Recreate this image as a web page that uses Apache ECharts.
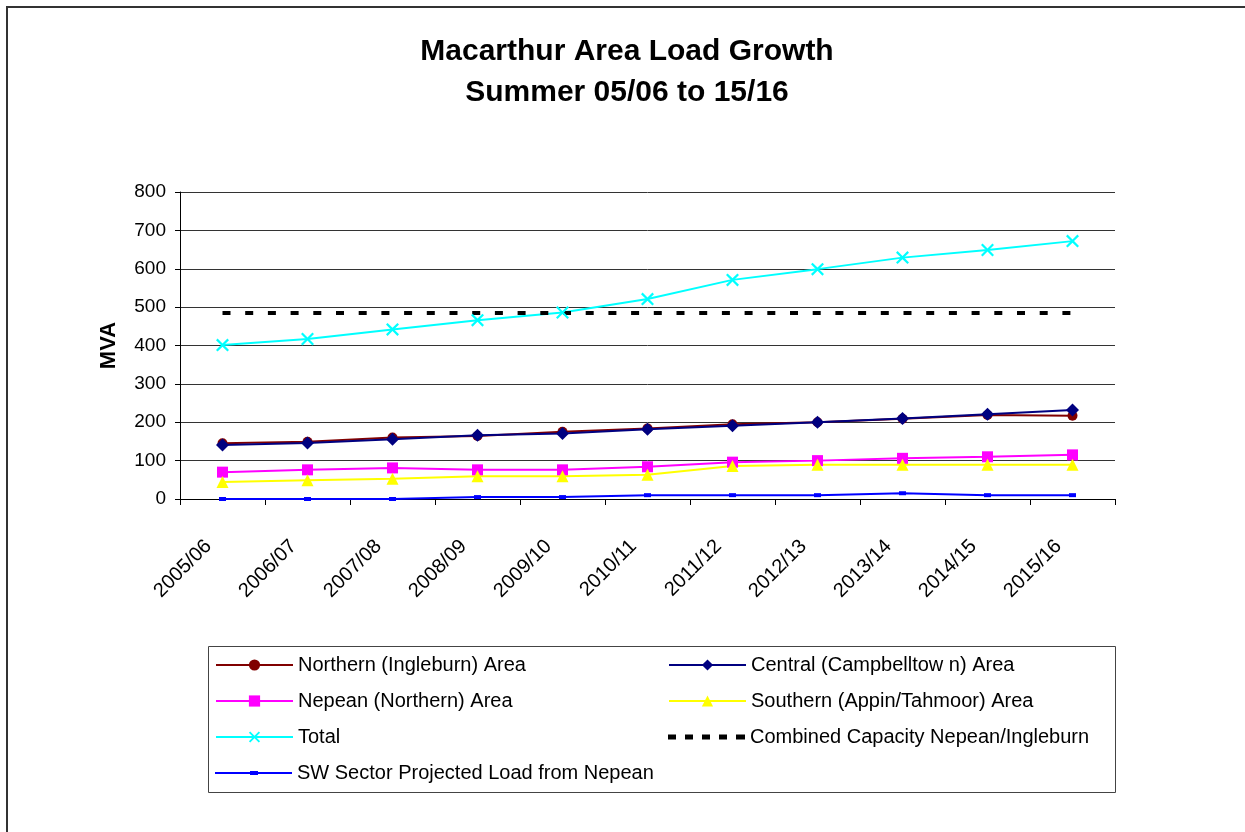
<!DOCTYPE html>
<html>
<head>
<meta charset="utf-8">
<script src="https://cdn.jsdelivr.net/npm/echarts@6/dist/echarts.min.js"></script>
<style>
html,body{margin:0;padding:0;background:#fff;}
#chart{width:1245px;height:832px;}
</style>
</head>
<body>
<div id="chart"></div>
<script>
// ---- data ----
var categories = ['2005/06','2006/07','2007/08','2008/09','2009/10','2010/11','2011/12','2012/13','2013/14','2014/15','2015/16'];
var northern = [145,149,160,164,175,184,195,200,209,219,217];
var central  = [141,146,156,166,171,182,191,200,210,221,232];
var nepean   = [70,76,81,76,76,84,96,100,106,110,115];
var southern = [44,49,53,59,59,63,86,89,89,89,89];
var total    = [401,417,442,466,486,521,571,599,629,649,672];
var capacity = [485,485,485,485,485,485,485,485,485,485,485];
var swSector = [0,0,0,5,5,10,10,10,15,10,10];
var yTicks = [0,100,200,300,400,500,600,700,800];
var seriesNames = [
  'Northern (Ingleburn) Area',
  'Central (Campbelltow n) Area',
  'Nepean (Northern) Area',
  'Southern (Appin/Tahmoor) Area',
  'Total',
  'Combined Capacity Nepean/Ingleburn',
  'SW Sector Projected Load from Nepean'
];

var FONT = '"Liberation Sans", Arial, sans-serif';
var xPath = 'path://M0,1.2 L1.2,0 L5,3.8 L8.8,0 L10,1.2 L6.2,5 L10,8.8 L8.8,10 L5,6.2 L1.2,10 L0,8.8 L3.8,5 Z';
var swIcon = 'path://M0,1 L35,1 L35,0 L43,0 L43,1 L77,1 L77,3 L43,3 L43,4 L35,4 L35,3 L0,3 Z';
var dashIcon = 'path://M0,0 L8,0 L8,5 L0,5 Z M17,0 L25,0 L25,5 L17,5 Z M34,0 L42,0 L42,5 L34,5 Z M51,0 L59,0 L59,5 L51,5 Z M68,0 L77,0 L77,5 L68,5 Z';

function legendAt(name, left, top, extra) {
  var l = {
    data: [name], left: left, top: top, padding: 0,
    itemWidth: 77, itemHeight: 14, selectedMode: false,
    textStyle: {fontFamily: FONT, fontSize: 20, color: '#000'}
  };
  if (extra) { for (var k in extra) l[k] = extra[k]; }
  return l;
}

var rowY = [664, 700, 736, 772];
var chart = echarts.init(document.getElementById('chart'), null, {renderer: 'canvas'});
chart.setOption({
  animation: false,
  backgroundColor: '#fff',
  title: {
    text: 'Macarthur Area Load Growth\nSummer 05/06 to 15/16',
    left: 627, top: 31, textAlign: 'center', padding: 0,
    textStyle: {fontFamily: FONT, fontSize: 30, fontWeight: 'bold', color: '#000', lineHeight: 41}
  },
  graphic: [
    {type: 'rect', shape: {x: 7, y: 7, width: 1300, height: 900}, style: {fill: 'none', stroke: '#333', lineWidth: 2}, silent: true},
    {type: 'rect', shape: {x: 208.5, y: 646.5, width: 907, height: 146}, style: {fill: 'none', stroke: '#444', lineWidth: 1}, silent: true}
  ],
  legend: [
    legendAt(seriesNames[0], 215, rowY[0] - 9),
    legendAt(seriesNames[1], 668, rowY[0] - 9),
    legendAt(seriesNames[2], 215, rowY[1] - 9),
    legendAt(seriesNames[3], 668, rowY[1] - 9),
    legendAt(seriesNames[4], 215, rowY[2] - 9),
    legendAt(seriesNames[5], 668, rowY[2] - 9, {data: [{name: seriesNames[5], icon: dashIcon}], itemHeight: 5}),
    legendAt(seriesNames[6], 215, rowY[3] - 9, {data: [{name: seriesNames[6], icon: swIcon}], itemHeight: 4})
  ],
  grid: {left: 180, right: 130, top: 192, bottom: 333, containLabel: false},
  xAxis: {
    type: 'category', data: categories, boundaryGap: true,
    axisLine: {lineStyle: {color: '#000', width: 1}},
    axisTick: {show: true, length: 6, inside: false, lineStyle: {color: '#000'}},
    axisLabel: {rotate: 45, margin: 30, padding: [0, 20, 0, 0], fontFamily: FONT, fontSize: 20, color: '#000'},
    splitLine: {show: false}
  },
  yAxis: {
    type: 'value', min: yTicks[0], max: yTicks[yTicks.length - 1], interval: 100,
    name: 'MVA', nameLocation: 'middle', nameGap: 60, nameRotate: 90,
    nameTextStyle: {fontFamily: FONT, fontSize: 22, fontWeight: 'bold', color: '#000'},
    axisLine: {show: true, lineStyle: {color: '#000', width: 1}},
    axisTick: {show: true, length: 5, lineStyle: {color: '#000'}},
    axisLabel: {margin: 14, fontFamily: FONT, fontSize: 19, color: '#000'},
    splitLine: {show: true, lineStyle: {color: '#333', width: 1}}
  },
  series: [
    {name: seriesNames[0], type: 'line', data: northern, symbol: 'circle', symbolSize: 10,
     lineStyle: {color: '#800000', width: 2}, itemStyle: {color: '#800000'}},
    {name: seriesNames[1], type: 'line', data: central, symbol: 'diamond', symbolSize: 13,
     lineStyle: {color: '#000080', width: 2}, itemStyle: {color: '#000080'}},
    {name: seriesNames[2], type: 'line', data: nepean, symbol: 'rect', symbolSize: 11,
     lineStyle: {color: '#FF00FF', width: 2}, itemStyle: {color: '#FF00FF'}},
    {name: seriesNames[3], type: 'line', data: southern, symbol: 'triangle', symbolSize: 12,
     lineStyle: {color: '#FFFF00', width: 2}, itemStyle: {color: '#FFFF00'}},
    {name: seriesNames[4], type: 'line', data: total, symbol: xPath, symbolSize: 13,
     lineStyle: {color: '#00FFFF', width: 2}, itemStyle: {color: '#00FFFF'}},
    {name: seriesNames[5], type: 'line', data: capacity, symbol: 'none',
     lineStyle: {color: '#000', width: 4, type: [8, 14.7]}, itemStyle: {color: '#000'}},
    {name: seriesNames[6], type: 'line', data: swSector, symbol: 'rect', symbolSize: [7, 4],
     lineStyle: {color: '#0000FF', width: 2}, itemStyle: {color: '#0000FF'}}
  ]
});
</script>
</body>
</html>
